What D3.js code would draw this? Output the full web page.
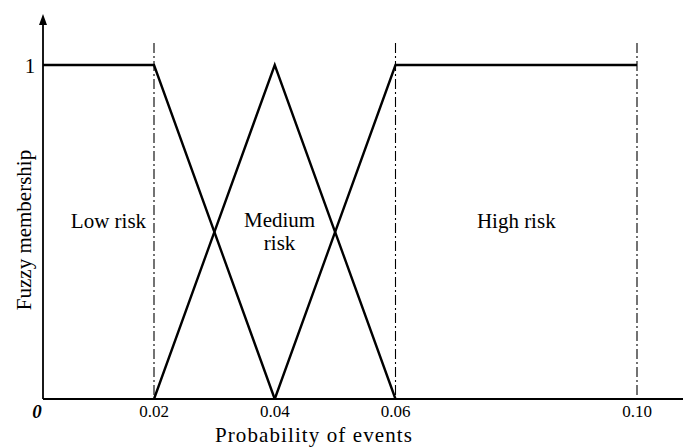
<!DOCTYPE html>
<html>
<head>
<meta charset="utf-8">
<script src="https://cdn.jsdelivr.net/npm/d3@7"></script>
<style>
  html, body { margin: 0; padding: 0; background: #fff; }
  svg { display: block; }
  text { font-family: "Liberation Serif", "Times New Roman", serif; fill: #000; }
</style>
</head>
<body>
<svg id="chart" width="683" height="448"></svg>
<script>
// Membership functions (probability, membership)
const lowRisk = [[0, 1], [0.02, 1], [0.04, 0]];
const mediumRisk = [[0.02, 0], [0.04, 1], [0.06, 0]];
const highRisk = [[0.04, 0], [0.06, 1], [0.10, 1]];
const xTicks = [0.02, 0.04, 0.06, 0.10];
const xTickLabels = ["0.02", "0.04", "0.06", "0.10"];
const boundaries = [0.02, 0.06, 0.10];
const regionLabels = [
  { lines: ["Low risk"], x: 0.0118 },
  { lines: ["Medium", "risk"], x: 0.0408 },
  { lines: ["High risk"], x: 0.0800 }
];

const svg = d3.select("#chart");

// The origin segment is drawn compressed relative to the rest of the axis
const x = d3.scaleLinear().domain([0, 0.02, 0.10]).range([43, 154, 637]);
const y = d3.scaleLinear().domain([0, 1]).range([399, 65]);

// Axes
svg.append("line").attr("x1", x(0)).attr("x2", 683).attr("y1", y(0)).attr("y2", y(0))
  .attr("stroke", "#000").attr("stroke-width", 1.8);
svg.append("line").attr("x1", x(0)).attr("x2", x(0)).attr("y1", y(0)).attr("y2", 22)
  .attr("stroke", "#000").attr("stroke-width", 1.8);
svg.append("path")
  .attr("d", `M${x(0)},14 L${x(0) - 4},25 L${x(0) + 4},25 Z`)
  .attr("fill", "#000");

// Dash-dot boundaries
svg.selectAll("line.bound").data(boundaries).join("line")
  .attr("class", "bound")
  .attr("x1", d => x(d)).attr("x2", d => x(d))
  .attr("y1", 43).attr("y2", y(0))
  .attr("stroke", "#000").attr("stroke-width", 1.1)
  .attr("stroke-dasharray", "10,3,2,3");

// Membership lines
const line = d3.line().x(d => x(d[0])).y(d => y(d[1]));
[lowRisk, mediumRisk, highRisk].forEach(s => {
  svg.append("path").attr("d", line(s))
    .attr("fill", "none").attr("stroke", "#000").attr("stroke-width", 2.4)
    .attr("stroke-linejoin", "miter");
});

// Tick labels
svg.selectAll("text.xt").data(xTicks).join("text")
  .attr("class", "xt")
  .attr("x", d => x(d)).attr("y", 417)
  .attr("text-anchor", "middle").attr("font-size", 17)
  .text((d, i) => xTickLabels[i]);

svg.append("text").attr("x", 37).attr("y", 418)
  .attr("text-anchor", "middle").attr("font-size", 19)
  .attr("font-weight", "bold").attr("font-style", "italic").text("0");

svg.append("text").attr("x", 30).attr("y", y(1) + 8)
  .attr("text-anchor", "middle").attr("font-size", 21).text("1");

// Region labels
regionLabels.forEach(r => {
  const t = svg.append("text").attr("text-anchor", "middle").attr("font-size", 21);
  const y0 = r.lines.length > 1 ? 227 : 228;
  r.lines.forEach((s, i) => {
    t.append("tspan").attr("x", x(r.x)).attr("y", y0 + i * 23).text(s);
  });
});

// Axis titles
svg.append("text").attr("x", 314).attr("y", 442)
  .attr("text-anchor", "middle").attr("font-size", 21)
  .attr("letter-spacing", 1.1).text("Probability of events");
svg.append("text")
  .attr("transform", `translate(31,230) rotate(-90)`)
  .attr("text-anchor", "middle").attr("font-size", 21).text("Fuzzy membership");
</script>
</body>
</html>
